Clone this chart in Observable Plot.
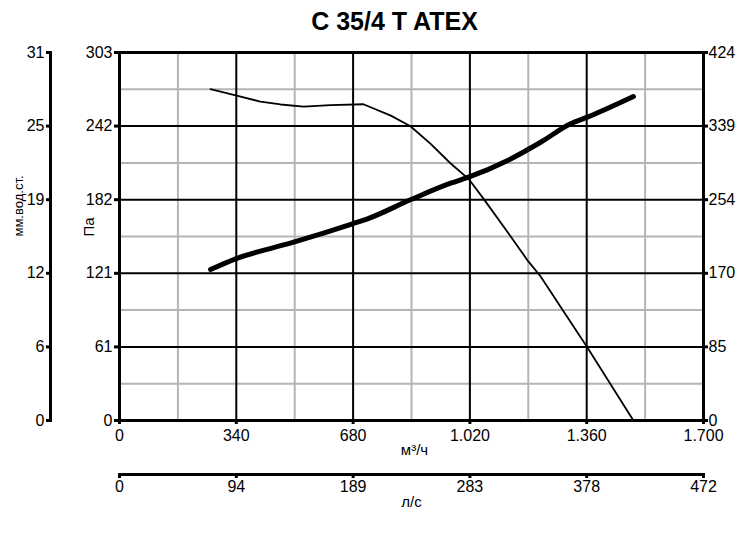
<!DOCTYPE html>
<html>
<head>
<meta charset="utf-8">
<script src="https://cdn.jsdelivr.net/npm/d3@7"></script>
<script src="https://cdn.jsdelivr.net/npm/@observablehq/plot@0.6"></script>
<style>
  html, body { margin: 0; padding: 0; background: white; }
</style>
</head>
<body>
<div id="chart"></div>
<script>
// ---- data ----
const title = "C 35/4 T ATEX";
const flowTicks = [0, 340, 680, 1020, 1360, 1700];
const flowLabels = ["0", "340", "680", "1.020", "1.360", "1.700"];
const lpsLabels = ["0", "94", "189", "283", "378", "472"];
const flowMinor = [170, 510, 850, 1190, 1530];
const paTicks = [0, 60.6, 121.2, 181.8, 242.4, 303];
const paLabels = ["0", "61", "121", "182", "242", "303"];
const mmLabels = ["0", "6", "12", "19", "25", "31"];
const wLabels = ["0", "85", "170", "254", "339", "424"];
const paMinor = [30.3, 90.9, 151.5, 212.1, 272.7];
const paMax = 303;
const wMax = 424;

// pressure curve (Pa) vs flow (m3/h)
const pFlow = [265, 338, 410, 469, 536, 614, 710, 790, 847, 905, 964, 1016, 1060, 1130, 1190, 1225, 1290, 1362, 1496];
const pPa   = [272.8, 267.6, 262.6, 260.2, 258.5, 259.6, 260.4, 251, 242.3, 228, 211.6, 199, 182.5, 155, 131, 119, 91, 60.1, 0];

// power curve (W, right axis) vs flow
const wFlow = [265, 338, 507, 678, 722, 847, 964, 1016, 1130, 1226, 1313, 1362, 1496];
const wVal  = [174, 186.3, 205.4, 226.6, 232.4, 254.3, 273.4, 280.3, 299.6, 320.6, 341.8, 349.5, 373.3];

const pressure = pFlow.map((q, i) => ({q, pa: pPa[i]}));
const power = wFlow.map((q, i) => ({q, w: wVal[i]}));

const lab = (labels, ticks) => d => labels[ticks.indexOf(d)];

const chart = Plot.plot({
  width: 750,
  height: 536,
  marginTop: 52,
  marginLeft: 119,
  marginRight: 47,
  marginBottom: 116,
  style: {fontFamily: "'Liberation Sans', Arial, sans-serif", fontSize: "16px", background: "white", color: "black"},
  x: {domain: [0, 1700]},
  y: {domain: [0, paMax]},
  marks: [
    Plot.ruleX(flowMinor, {stroke: "#b5b5b5", strokeWidth: 2}),
    Plot.ruleY(paMinor, {stroke: "#b5b5b5", strokeWidth: 2}),
    Plot.ruleX(flowTicks.slice(1, -1), {stroke: "black", strokeWidth: 2}),
    Plot.ruleY(paTicks.slice(1, -1), {stroke: "black", strokeWidth: 2}),
    Plot.frame({stroke: "black", strokeWidth: 3}),
    Plot.line(pressure, {x: "q", y: "pa", stroke: "black", strokeWidth: 1.8}),
    Plot.line(power, {x: "q", y: d => d.w * paMax / wMax, stroke: "black", strokeWidth: 5, curve: "monotone-x"}),
    // inner left axis (Pa)
    Plot.axisY({anchor: "left", ticks: paTicks, tickFormat: lab(paLabels, paTicks), tickSize: 5, tickPadding: 2, strokeWidth: 3, label: null, fontSize: 16}),
    // outer left axis (mm water)
    Plot.frame({anchor: "left", dx: -69, stroke: "black", strokeWidth: 3}),
    Plot.axisY({anchor: "left", dx: -69, ticks: paTicks, tickFormat: lab(mmLabels, paTicks), tickSize: 4, tickPadding: 2, strokeWidth: 3, label: null, fontSize: 16}),
    // right axis (W)
    Plot.axisY({anchor: "right", ticks: paTicks, tickFormat: lab(wLabels, paTicks), tickSize: 4, tickPadding: 1, strokeWidth: 3, label: null, fontSize: 16}),
    // bottom axis (m3/h)
    Plot.axisX({anchor: "bottom", ticks: flowTicks, tickFormat: lab(flowLabels, flowTicks), tickSize: 4, tickPadding: 5, strokeWidth: 3, label: null, fontSize: 16}),
    // second bottom axis (l/s)
    Plot.frame({anchor: "bottom", dy: 54, stroke: "black", strokeWidth: 3}),
    Plot.axisX({anchor: "bottom", dy: 54, ticks: flowTicks, tickFormat: lab(lpsLabels, flowTicks), tickSize: 4, tickPadding: 2, strokeWidth: 3, label: null, fontSize: 16}),
    // axis titles
    Plot.text(["Па"], {frameAnchor: "left", dx: -30, rotate: -90, fontSize: 15, fill: "black"}),
    Plot.text(["мм.вод.ст."], {frameAnchor: "left", dx: -101, rotate: -90, fontSize: 13, fill: "black"}),
    Plot.text(["м³/ч"], {frameAnchor: "bottom", dy: 34, dx: 3, fontSize: 15, fill: "black"}),
    Plot.text(["л/с"], {frameAnchor: "bottom", dy: 86, fontSize: 15, fill: "black"}),
    Plot.text([title], {frameAnchor: "top", dy: -40, dx: -17, fontSize: 25, fontWeight: "bold", fill: "black"})
  ]
});
document.getElementById("chart").appendChild(chart);
</script>
</body>
</html>
